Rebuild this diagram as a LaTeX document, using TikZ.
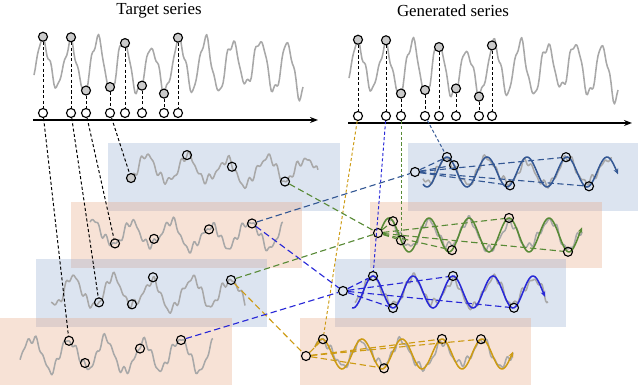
\documentclass[tikz,border=0pt]{standalone}
\usepackage{fontspec}
\setmainfont{Liberation Serif}
\usetikzlibrary{arrows.meta}
\definecolor{bandblue}{RGB}{140,165,205}
\definecolor{bandorange}{RGB}{230,160,120}
\definecolor{serg}{RGB}{168,168,168}
\definecolor{cdark}{RGB}{52,88,148}
\definecolor{cgreen}{RGB}{88,138,54}
\definecolor{cblue}{RGB}{40,40,215}
\definecolor{cgold}{RGB}{205,155,20}

\begin{document}
\begin{tikzpicture}[x=0.025cm, y=-0.025cm,
    declare function={
        nz(\u)=0.45*sin(37*\u+20)+0.4*sin(53*\u+70)+0.35*sin(17*\u+10)+0.35*sin(5*\u+40)+0.3*sin(2.3*\u);
        ser(\x)=66-24*cos(13.28*(\x-43))-7*nz(\x-30);
        qa(\x)=170-12*cos(9.1*(\x-187))-5.5*nz(\x-120);
        qb(\x)=235-12*cos(9.2*(\x-210))-5.5*nz(\x-85);
        qc(\x)=293-14*cos(9.2*(\x-152))-5.5*nz(\x-45);
        qd(\x)=355-15*cos(9.73*(\x-180))-5.5*nz(\x-15);
        ra(\x)=172-15*cos(9*(\x-447));
        rb(\x)=235-17*cos(9*(\x-509));
        rc(\x)=292-16*cos(9*(\x-453));
        rd(\x)=354-15*cos(9*(\x-442));
        rag(\x)=172-12*cos(9*(\x-447))-5*nz(\x-415);
        rbg(\x)=235-13*cos(9*(\x-509))-5*nz(\x-380);
        rcg(\x)=292-13*cos(9*(\x-453))-5*nz(\x-345);
        rdg(\x)=354-12*cos(9*(\x-442))-5*nz(\x-310);
    }]
        \tikzset{pt/.style={circle, draw, line width=0.8pt, inner sep=0pt, minimum size=0.225cm},
            ptf/.style={pt, fill=serg!60},
            ptw/.style={pt, fill=white},
            series/.style={serg, line width=1.1pt, line join=round},
            drop/.style={line width=0.7pt, dash pattern=on 2.2pt off 1.6pt},
            link/.style={line width=0.8pt, dash pattern=on 4.5pt off 2.5pt},
            wave/.style={line width=1.1pt, -{Stealth[length=1.4mm, width=1.2mm]}},
            axis/.style={line width=1pt, -{Stealth[length=2mm, width=1.5mm]}}}
        \useasboundingbox (0,0) rectangle (640,386);
        
        % bands
        \fill[bandblue, fill opacity=0.3] (108,143) rectangle (340,211);
        \fill[bandorange, fill opacity=0.3] (71,202) rectangle (302,268);
        \fill[bandblue, fill opacity=0.3] (36,259) rectangle (267,327);
        \fill[bandorange, fill opacity=0.3] (0,318) rectangle (232,385);
        \fill[bandblue, fill opacity=0.3] (408,143) rectangle (638,211);
        \fill[bandorange, fill opacity=0.3] (370,202) rectangle (602,268);
        \fill[bandblue, fill opacity=0.3] (335,259) rectangle (566,327);
        \fill[bandorange, fill opacity=0.3] (300,318) rectangle (531,385);
        
        % titles
        \node[font=\fontsize{12}{14}\selectfont] (tt) at (159,11) {Target series};
        \node[font=\fontsize{12}{14}\selectfont] (gt) at (453,11) {Generated series};
        
        % top series and axes
        \draw[series] plot[domain=34:303, samples=230] (\x,{ser(\x)});
        \draw[series] plot[domain=349:618, samples=230] (\x,{ser(\x-315)+3});
        \draw[axis] (33,120) -- (318,120);
        \draw[axis] (348,123) -- (632,123);
        \foreach \x [count=\i] in {43,71,86,110,125,142,164,178}{
            \node[ptf] (t\i) at (\x,{ser(\x)}) {};
            \node[ptw] (ta\i) at (\x,113) {};
            \draw[drop] (t\i) -- (ta\i);
        }
        \foreach \x [count=\i] in {358,386,401,425,439,456,479,492}{
            \node[ptf] (g\i) at (\x,{ser(\x-315)+3}) {};
            \node[ptw] (ga\i) at (\x,116) {};
            \draw[drop] (g\i) -- (ga\i);
        }
        
        % target bands
        \draw[series] plot[domain=128:318, samples=170] (\x,{qa(\x)});
        \draw[series] plot[domain=90:283, samples=170] (\x,{qb(\x)});
        \draw[series] plot[domain=51:245, samples=170] (\x,{qc(\x)});
        \draw[series] plot[domain=20:213, samples=170] (\x,{qd(\x)});
        \node[ptf] (qa1) at (131,{qa(131)}) {};
        \foreach \x [count=\i from 2] in {187,232,285} \node[pt] (qa\i) at (\x,{qa(\x)}) {};
        \foreach \x [count=\i] in {115,154,209,252} \node[pt] (qb\i) at (\x,{qb(\x)}) {};
        \foreach \x [count=\i] in {99,132,153,231} \node[pt] (qc\i) at (\x,{qc(\x)}) {};
        \foreach \x [count=\i] in {69,85,140,181} \node[pt] (qd\i) at (\x,{qd(\x)}) {};
        \draw[drop] (ta1) -- (qd1);
        \draw[drop] (ta2) -- (qc1);
        \draw[drop] (ta3) -- (qb1);
        \draw[drop] (ta4) -- (qa1);
        
        % generated bands
        \draw[series] plot[domain=423:612, samples=170] (\x,{rag(\x)});
        \draw[series] plot[domain=388:582, samples=170] (\x,{rbg(\x)});
        \draw[series] plot[domain=355:548, samples=170] (\x,{rcg(\x)});
        \draw[series] plot[domain=315:513, samples=170] (\x,{rdg(\x)});
        \draw[wave, cdark] plot[domain=423:618, samples=120] (\x,{ra(\x)});
        \draw[wave, cgreen] plot[domain=381:582, samples=120] (\x,{rb(\x)});
        \draw[wave, cblue] plot[domain=352:545, samples=120] (\x,{rc(\x)});
        \draw[wave, cgold] plot[domain=315:513, samples=120] (\x,{rd(\x)});
        
        \node[pt] (ha) at (415,172) {};
        \foreach \x [count=\i] in {447,454,510,566,589}{
            \node[pt] (ra\i) at (\x,{ra(\x)}) {};
            \draw[link, cdark] (ha) -- (ra\i);
        }
        \node[pt] (hb) at (378,233) {};
        \foreach \x [count=\i] in {393,401,452,509,568}{
            \node[pt] (rb\i) at (\x,{rb(\x)}) {};
            \draw[link, cgreen] (hb) -- (rb\i);
        }
        \node[pt] (hc) at (343,291) {};
        \foreach \x [count=\i] in {373,393,453,514}{
            \node[pt] (rc\i) at (\x,{rc(\x)}) {};
            \draw[link, cblue] (hc) -- (rc\i);
        }
        \node[pt] (hd) at (306,356) {};
        \foreach \x [count=\i] in {323,384,442,481}{
            \node[pt] (rd\i) at (\x,{rd(\x)}) {};
            \draw[link, cgold] (hd) -- (rd\i);
        }
        \draw[drop, cgold] (ga1) -- (rd1);
        \draw[drop, cblue] (ga2) -- (rc1);
        \draw[drop, cgreen] (ga3) -- (rb2);
        \draw[drop, cdark] (ga4) -- (ra1);
        
        % matches between bands
        \draw[link, cgreen] (qa4) -- (hb);
        \draw[link, cdark] (qb4) -- (ha);
        \draw[link, cblue] (qb4) -- (hc);
        \draw[link, cgreen] (qc4) -- (hb);
        \draw[link, cgold] (qc4) -- (hd);
        \draw[link, cblue] (qd4) -- (hc);
\end{tikzpicture}
\end{document}
